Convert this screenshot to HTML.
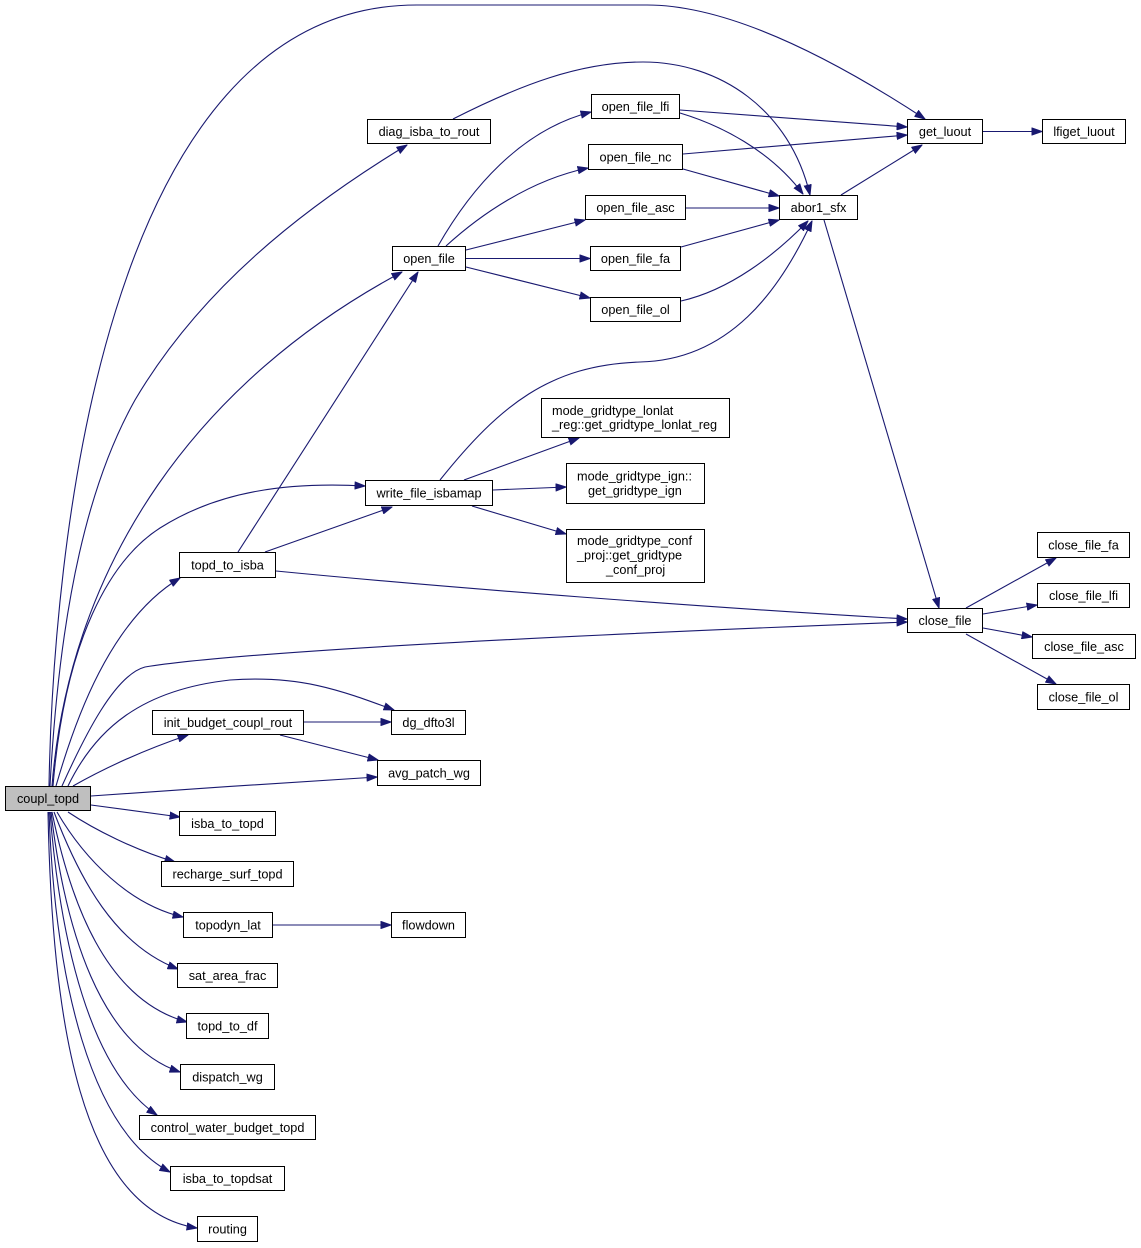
<!DOCTYPE html>
<html>
<head>
<meta charset="utf-8">
<style>
html,body{margin:0;padding:0;background:#fff;}
svg{display:block;}
text{font-family:"Liberation Sans",Arial,sans-serif;font-size:12.7px;fill:#000;}
.n rect{fill:#fff;stroke:#000;stroke-width:1;}
.e{fill:none;stroke:#191970;stroke-width:1.1;}
</style>
</head>
<body>
<svg width="1141" height="1248" viewBox="0 0 1141 1248" xmlns="http://www.w3.org/2000/svg">
<defs>
<marker id="a" markerUnits="userSpaceOnUse" markerWidth="11" markerHeight="8" viewBox="0 0 11 8" refX="10.5" refY="4" orient="auto">
<path d="M0.5,0.5 L10.5,4 L0.5,7.5 z" fill="#191970" stroke="#191970" stroke-width="1"/>
</marker>
</defs>

<g class="edges">
<!-- coupl_topd edges -->
<path class="e" marker-end="url(#a)" d="M49,786 C53,560 100,5 417,5 L647,5 C730,5 835,60 925,119"/>
<path class="e" marker-end="url(#a)" d="M50,786 C60,600 90,480 135,400 C200,290 300,210 407,145"/>
<path class="e" marker-end="url(#a)" d="M52,786 C70,560 200,380 402,272"/>
<path class="e" marker-end="url(#a)" d="M53,786 C65,640 110,560 160,528 C220,490 290,482 365,486"/>
<path class="e" marker-end="url(#a)" d="M56,786 C75,720 110,620 180,578"/>
<path class="e" marker-end="url(#a)" d="M62,786 C85,735 115,675 145,667 C250,650 600,634 907,622"/>
<path class="e" marker-end="url(#a)" d="M68,786 C95,730 140,690 230,680 C300,675 340,690 394,710"/>
<path class="e" marker-end="url(#a)" d="M73,786 C110,765 150,748 188,735"/>
<path class="e" marker-end="url(#a)" d="M91,796 C180,790 290,782 377,777"/>
<path class="e" marker-end="url(#a)" d="M91,805 L180,817"/>
<path class="e" marker-end="url(#a)" d="M68,812 C95,830 135,850 175,862"/>
<path class="e" marker-end="url(#a)" d="M57,812 C85,860 130,905 183,917"/>
<path class="e" marker-end="url(#a)" d="M54,812 C80,880 115,945 178,969"/>
<path class="e" marker-end="url(#a)" d="M52,812 C70,900 105,1000 187,1022"/>
<path class="e" marker-end="url(#a)" d="M51,812 C65,930 100,1045 180,1072"/>
<path class="e" marker-end="url(#a)" d="M50,812 C60,940 90,1070 157,1115"/>
<path class="e" marker-end="url(#a)" d="M49,812 C55,980 90,1130 170,1172"/>
<path class="e" marker-end="url(#a)" d="M48,812 C52,1020 80,1210 197,1228"/>

<!-- init_budget -->
<path class="e" marker-end="url(#a)" d="M304,722 L391,722"/>
<path class="e" marker-end="url(#a)" d="M280,735 L378,760"/>
<!-- topodyn_lat -->
<path class="e" marker-end="url(#a)" d="M273,925 L391,925"/>

<!-- topd_to_isba -->
<path class="e" marker-end="url(#a)" d="M238,552 L418,272"/>
<path class="e" marker-end="url(#a)" d="M265,552 L392,507"/>
<path class="e" marker-end="url(#a)" d="M276,571 C450,588 700,607 907,619"/>

<!-- diag_isba_to_rout -> abor1_sfx -->
<path class="e" marker-end="url(#a)" d="M453,119 C520,85 580,62 643,62 C720,62 790,110 810,195"/>

<!-- open_file -->
<path class="e" marker-end="url(#a)" d="M438,246 C470,190 520,130 591,112"/>
<path class="e" marker-end="url(#a)" d="M446,246 C480,215 530,180 588,168"/>
<path class="e" marker-end="url(#a)" d="M466,250 L585,220"/>
<path class="e" marker-end="url(#a)" d="M466,258.5 L590,258.5"/>
<path class="e" marker-end="url(#a)" d="M466,267 L590,298"/>

<!-- open_file_* -->
<path class="e" marker-end="url(#a)" d="M680,110 L907,127"/>
<path class="e" marker-end="url(#a)" d="M680,113 C720,125 770,150 803,194"/>
<path class="e" marker-end="url(#a)" d="M683,154 L907,135"/>
<path class="e" marker-end="url(#a)" d="M683,169 L779,196"/>
<path class="e" marker-end="url(#a)" d="M686,208 L779,208"/>
<path class="e" marker-end="url(#a)" d="M681,247 L779,220"/>
<path class="e" marker-end="url(#a)" d="M681,301 C730,290 775,255 808,221"/>

<!-- write_file_isbamap -->
<path class="e" marker-end="url(#a)" d="M440,480 C500,405 550,365 640,362 C730,360 780,290 812,221"/>
<path class="e" marker-end="url(#a)" d="M464,480 L579,438"/>
<path class="e" marker-end="url(#a)" d="M493,490 L566,487"/>
<path class="e" marker-end="url(#a)" d="M472,506 L566,534"/>

<!-- abor1_sfx / get_luout -->
<path class="e" marker-end="url(#a)" d="M841,195 L922,145"/>
<path class="e" marker-end="url(#a)" d="M824,220 L939,608"/>
<path class="e" marker-end="url(#a)" d="M983,131.5 L1042,131.5"/>

<!-- close_file -->
<path class="e" marker-end="url(#a)" d="M966,608 L1056,558"/>
<path class="e" marker-end="url(#a)" d="M983,614 L1037,605"/>
<path class="e" marker-end="url(#a)" d="M983,628 L1032,637"/>
<path class="e" marker-end="url(#a)" d="M966,634 L1056,684"/>
</g>

<g class="n">
<rect x="5.5" y="786.5" width="85" height="24" style="fill:#bfbfbf"/><text x="48" y="803" text-anchor="middle">coupl_topd</text>
<rect x="152.5" y="710.5" width="151" height="24"/><text x="228" y="727" text-anchor="middle">init_budget_coupl_rout</text>
<rect x="391.5" y="710.5" width="74" height="24"/><text x="428.5" y="727" text-anchor="middle">dg_dfto3l</text>
<rect x="377.5" y="760.5" width="103" height="25"/><text x="429" y="777.5" text-anchor="middle">avg_patch_wg</text>
<rect x="179.5" y="811.5" width="96" height="24"/><text x="227.5" y="828" text-anchor="middle">isba_to_topd</text>
<rect x="161.5" y="861.5" width="132" height="25"/><text x="227.5" y="878.5" text-anchor="middle">recharge_surf_topd</text>
<rect x="183.5" y="912.5" width="89" height="25"/><text x="228" y="929.5" text-anchor="middle">topodyn_lat</text>
<rect x="391.5" y="912.5" width="74" height="25"/><text x="428.5" y="929.5" text-anchor="middle">flowdown</text>
<rect x="177.5" y="963.5" width="100" height="24"/><text x="227.5" y="980" text-anchor="middle">sat_area_frac</text>
<rect x="186.5" y="1013.5" width="82" height="25"/><text x="227.5" y="1030.5" text-anchor="middle">topd_to_df</text>
<rect x="180.5" y="1064.5" width="94" height="25"/><text x="227.5" y="1081.5" text-anchor="middle">dispatch_wg</text>
<rect x="139.5" y="1115.5" width="176" height="24"/><text x="227.5" y="1132" text-anchor="middle">control_water_budget_topd</text>
<rect x="170.5" y="1166.5" width="114" height="24"/><text x="227.5" y="1183" text-anchor="middle">isba_to_topdsat</text>
<rect x="197.5" y="1216.5" width="60" height="25"/><text x="227.5" y="1233.5" text-anchor="middle">routing</text>

<rect x="367.5" y="119.5" width="123" height="24"/><text x="429" y="136" text-anchor="middle">diag_isba_to_rout</text>
<rect x="392.5" y="246.5" width="73" height="24"/><text x="429" y="263" text-anchor="middle">open_file</text>
<rect x="591.5" y="94.5" width="88" height="24"/><text x="635.5" y="111" text-anchor="middle">open_file_lfi</text>
<rect x="588.5" y="144.5" width="94" height="25"/><text x="635.5" y="161.5" text-anchor="middle">open_file_nc</text>
<rect x="585.5" y="195.5" width="100" height="24"/><text x="635.5" y="212" text-anchor="middle">open_file_asc</text>
<rect x="590.5" y="246.5" width="90" height="24"/><text x="635.5" y="263" text-anchor="middle">open_file_fa</text>
<rect x="590.5" y="297.5" width="90" height="24"/><text x="635.5" y="314" text-anchor="middle">open_file_ol</text>
<rect x="779.5" y="195.5" width="78" height="24"/><text x="818.5" y="212" text-anchor="middle">abor1_sfx</text>
<rect x="907.5" y="119.5" width="75" height="24"/><text x="945" y="136" text-anchor="middle">get_luout</text>
<rect x="1042.5" y="119.5" width="83" height="24"/><text x="1084" y="136" text-anchor="middle">lfiget_luout</text>

<rect x="365.5" y="480.5" width="127" height="25"/><text x="429" y="497.5" text-anchor="middle">write_file_isbamap</text>
<rect x="541.5" y="398.5" width="188" height="39"/><text x="552" y="415">mode_gridtype_lonlat</text><text x="552" y="429">_reg::get_gridtype_lonlat_reg</text>
<rect x="566.5" y="463.5" width="138" height="40"/><text x="577" y="480.5">mode_gridtype_ign::</text><text x="588" y="495">get_gridtype_ign</text>
<rect x="566.5" y="529.5" width="138" height="53"/><text x="577" y="545">mode_gridtype_conf</text><text x="577" y="559.5">_proj::get_gridtype</text><text x="606" y="574">_conf_proj</text>
<rect x="179.5" y="552.5" width="96" height="25"/><text x="227.5" y="569.5" text-anchor="middle">topd_to_isba</text>

<rect x="907.5" y="608.5" width="75" height="24"/><text x="945" y="625" text-anchor="middle">close_file</text>
<rect x="1037.5" y="532.5" width="92" height="25"/><text x="1083.5" y="549.5" text-anchor="middle">close_file_fa</text>
<rect x="1037.5" y="583.5" width="92" height="24"/><text x="1083.5" y="600" text-anchor="middle">close_file_lfi</text>
<rect x="1032.5" y="634.5" width="103" height="24"/><text x="1084" y="651" text-anchor="middle">close_file_asc</text>
<rect x="1037.5" y="684.5" width="92" height="25"/><text x="1083.5" y="701.5" text-anchor="middle">close_file_ol</text>
</g>
</svg>
</body>
</html>
